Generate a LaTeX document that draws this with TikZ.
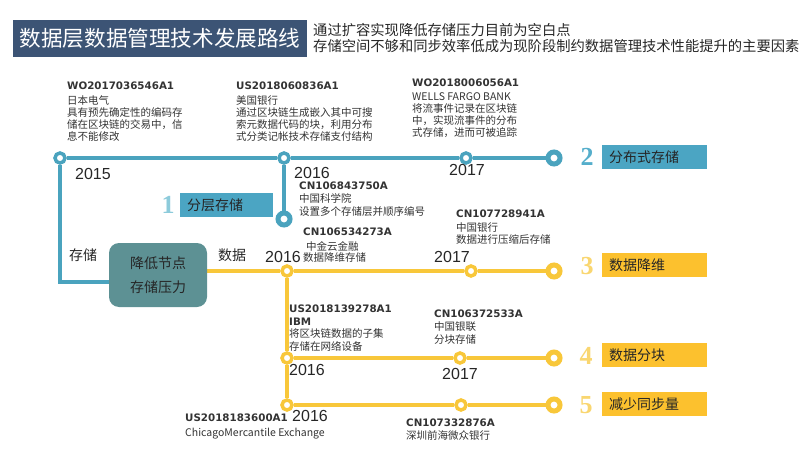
\documentclass[tikz,border=0pt]{standalone}
\usepackage{fontspec}
\setmainfont{Noto Sans CJK SC}
\newfontfamily\patfont{DejaVu Sans}
\newfontfamily\yearfont{Liberation Sans}
\newfontfamily\digitfont{Liberation Serif}
\usetikzlibrary{backgrounds}

\definecolor{titlebg}{HTML}{3C5475}
\definecolor{blueline}{HTML}{4AA3BE}
\definecolor{bluebox}{HTML}{4BA5C3}
\definecolor{yellowline}{HTML}{F8C73A}
\definecolor{yellowbox}{HTML}{FCC12E}
\definecolor{hubfill}{HTML}{5D9194}
\definecolor{numa}{HTML}{8DCBDB}
\definecolor{numb}{HTML}{55AECB}
\definecolor{numy}{HTML}{F9D670}

\newcommand{\pat}[1]{{\patfont\bfseries\fontsize{10.3}{12}\selectfont #1}}

\begin{document}
\begin{tikzpicture}[x=1pt, y=-1pt,
  station/.style={circle, draw=#1, fill=white, line width=3.5pt, minimum size=10pt, inner sep=0pt},
  terminal/.style={circle, draw=#1, fill=white, line width=5pt, minimum size=12pt, inner sep=0pt},
  track/.style={draw=#1, line width=4.5pt},
  tag/.style={fill=#1, anchor=west, text width=91pt, inner xsep=7pt, minimum height=24pt, font=\fontsize{14}{16}\selectfont, text=black!85},
  bignum/.style={text=#1, font=\digitfont\bfseries\fontsize{26}{26}\selectfont, inner sep=0pt},
  year/.style={font=\yearfont\fontsize{16}{18}\selectfont, inner sep=0pt, text=black!85},
  patent/.style={anchor=north west, inner sep=0pt, align=left, font=\fontsize{10.5}{12}\selectfont, text=black!80},
  side/.style={font=\fontsize{14}{16}\selectfont, inner sep=0pt, text=black!85}]
\useasboundingbox (0,0) rectangle (810,457);
% Title and subtitle
\node[fill=titlebg, minimum width=294pt, minimum height=37pt, inner sep=0pt, text=white, font=\fontsize{21.6}{24}\selectfont] (title) at (160,38.5) {数据层数据管理技术发展路线};
\node[anchor=west, inner sep=0pt, align=left, font=\fontsize{14.3}{16}\selectfont, text=black!85] (subtitle) at (313,38) {通过扩容实现降低存储压力目前为空白点\\存储空间不够和同步效率低成为现阶段制约数据管理技术性能提升的主要因素};
% Centre box
\node[fill=hubfill, rounded corners=10pt, minimum width=98pt, minimum height=64pt, align=center, font=\fontsize{14}{24}\selectfont, text=black!85] (hub) at (158,275) {降低节点\\存储压力};
\coordinate (hubin) at (109,282);
\coordinate (hubout) at (207,271);
% Blue line stations
\node[station=blueline] (b15) at (60,158) {};
\node[station=blueline] (b16) at (284,158) {};
\node[station=blueline] (b17) at (466,158) {};
\node[terminal=blueline] (bend2) at (554,158) {};
\node[terminal=blueline] (bend1) at (284,219) {};
% Yellow line stations
\node[station=yellowline] (y16a) at (287,271) {};
\node[station=yellowline] (y17a) at (471,271) {};
\node[terminal=yellowline] (yend3) at (554,271) {};
\node[station=yellowline] (y16b) at (287,358) {};
\node[station=yellowline] (y17b) at (460,358) {};
\node[terminal=yellowline] (yend4) at (554,358) {};
\node[station=yellowline] (y16c) at (287,405) {};
\node[station=yellowline] (y17c) at (461,405) {};
\node[terminal=yellowline] (yend5) at (554,405) {};
% Tracks behind the stations
\begin{scope}[on background layer]
\draw[track=blueline] (b15) -- (b16) -- (b17) -- (bend2);
\draw[track=blueline] (b16) -- (bend1);
\draw[track=blueline] (b15) |- (hubin);
\draw[track=yellowline] (hubout) -- (y16a) -- (y17a) -- (yend3);
\draw[track=yellowline] (y16a) -- (y16b) -- (y16c);
\draw[track=yellowline] (y16b) -- (y17b) -- (yend4);
\draw[track=yellowline] (y16c) -- (y17c) -- (yend5);
\end{scope}
% Numbered tags
\node[bignum=numa] (n1) at (168,205) {1};
\node[tag=bluebox, text width=79pt] (t1) at (180,205) {分层存储};
\node[bignum=numb] (n2) at (587,157) {2};
\node[tag=bluebox] (t2) at (602,157) {分布式存储};
\node[bignum=numy] (n3) at (587,266) {3};
\node[tag=yellowbox] (t3) at (602,265) {数据降维};
\node[bignum=numy] (n4) at (586,356) {4};
\node[tag=yellowbox] (t4) at (602,355) {数据分块};
\node[bignum=numy] (n5) at (586,405) {5};
\node[tag=yellowbox] (t5) at (602,404) {减少同步量};
% Side labels
\node[side] (lstore) at (83,255) {存储};
\node[side] (ldata) at (232,255) {数据};
% Years
\node[year] (yr15) at (93,174) {2015};
\node[year] (yr16b) at (312,173) {2016};
\node[year] (yr17b) at (467,170) {2017};
\node[year] (yr16a) at (283,257) {2016};
\node[year] (yr17a) at (452,257) {2017};
\node[year] (yr16d) at (307,370) {2016};
\node[year] (yr17d) at (460,374) {2017};
\node[year] (yr16e) at (310,416) {2016};
% Patents
\node[patent] (pA) at (67,82) {\pat{WO2017036546A1}\\[2.5pt]日本电气\\具有预先确定性的编码存\\储在区块链的交易中，信\\息不能修改};
\node[patent] (pB) at (236,82) {\pat{US2018060836A1}\\[2.5pt]美国银行\\通过区块链生成嵌入其中可搜\\索元数据代码的块，利用分布\\式分类记帐技术存储支付结构};
\node[patent] (pC) at (412,79) {\pat{WO2018006056A1}\\[2pt]WELLS FARGO BANK\\将流事件记录在区块链\\中，实现流事件的分布\\式存储，进而可被追踪};
\node[patent] (pD) at (299,182) {\pat{CN106843750A}\\[1pt]中国科学院\\[1pt]设置多个存储层并顺序编号};
\node[patent] (pE) at (303,228) {\pat{CN106534273A}\\[3pt]\hspace*{3pt}中金云金融\\[-1pt]数据降维存储};
\node[patent] (pF) at (456,210) {\pat{CN107728941A}\\[2pt]中国银行\\数据进行压缩后存储};
\node[patent] (pG) at (289,305) {\pat{US2018139278A1}\\[0.5pt]\pat{IBM}\\[0.5pt]将区块链数据的子集\\[0.5pt]存储在网络设备};
\node[patent] (pH) at (434,310) {\pat{CN106372533A}\\[1pt]中国银联\\[1pt]分块存储};
\node[patent] (pI) at (185,414) {\pat{US2018183600A1}\\[3pt]ChicagoMercantile Exchange};
\node[patent] (pJ) at (406,419) {\pat{CN107332876A}\\[1pt]深圳前海微众银行};
\end{tikzpicture}
\end{document}
